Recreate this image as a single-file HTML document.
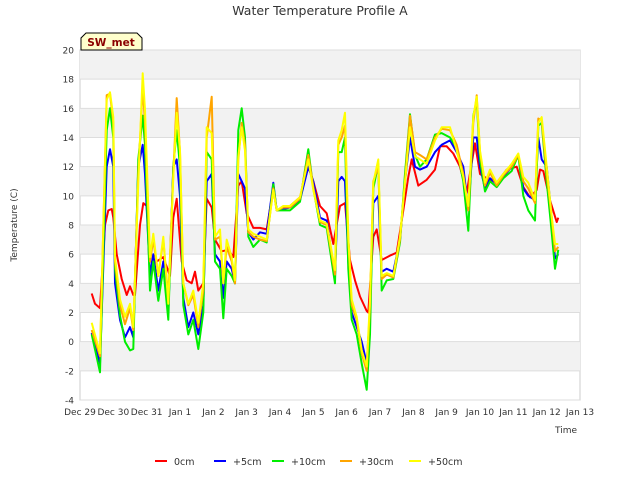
<!DOCTYPE html>
<html><head><meta charset="utf-8"><style>
body{margin:0;background:#fff;font-family:"DejaVu Sans","Liberation Sans",sans-serif}
</style></head><body>
<svg id="chart" width="640" height="480" xmlns="http://www.w3.org/2000/svg" font-family="DejaVu Sans, Liberation Sans, sans-serif">
<rect width="640" height="480" fill="#fff"/>
<g id="bands"></g><g id="grid"></g><g id="ticks"></g><g id="series"></g>
<text x="320" y="15" text-anchor="middle" font-size="12.5" fill="#333">Water Temperature Profile A</text>
<text x="17" y="225" text-anchor="middle" font-size="9" fill="#333" transform="rotate(-90 17 225)">Temperature (C)</text>
<text x="566" y="433" text-anchor="middle" font-size="9" fill="#333">Time</text>
<g>
<path d="M81,50 L81,38 L86,33 L137,33 L142,38 L142,50 Z" fill="#ffffcc" stroke="#000" stroke-width="1"/>
<text x="111" y="46" text-anchor="middle" font-size="10.5" font-weight="bold" fill="#8b0000">SW_met</text>
</g>
<g id="legend"></g>
</svg>
<script>
const yTicks=[-4,-2,0,2,4,6,8,10,12,14,16,18,20];
const xTickLabels=["Dec 29","Dec 30","Dec 31","Jan 1","Jan 2","Jan 3","Jan 4","Jan 5","Jan 6","Jan 7","Jan 8","Jan 9","Jan 10","Jan 11","Jan 12","Jan 13"];
const seriesNames=["0cm","+5cm","+10cm","+30cm","+50cm"];
const tRed=[0.35,0.45,0.6,0.75,0.85,0.95,1.0,1.1,1.25,1.4,1.5,1.6,1.65,1.8,1.9,2.0,2.1,2.3,2.5,2.7,2.8,2.9,3.05,3.2,3.35,3.45,3.55,3.7,3.8,3.95,4.05,4.25,4.45,4.6,4.75,4.85,5.0,5.2,5.4,5.6,5.8,5.9,6.3,6.6,6.85,7.0,7.2,7.4,7.6,7.8,7.95,8.1,8.25,8.4,8.6,8.65,8.8,8.9,9.05,9.3,9.5,9.7,9.85,9.95,10.15,10.4,10.65,10.8,11.0,11.2,11.4,11.6,11.85,12.0,12.2,12.5,12.8,13.1,13.3,13.5,13.7,13.8,13.9,14.1,14.3,14.35];
const red=[3.3,2.6,2.3,8,9,9.1,8.5,6,4.3,3.2,3.8,3.2,3.2,8,9.5,9.3,5.5,5.5,5.8,4.5,8.5,9.8,5.5,4.2,4.0,4.8,3.5,4,9.8,9.2,7,6.2,6.3,5.8,10.7,11,8.8,7.8,7.8,7.7,10.5,9,9.3,9.9,12,11,9.3,8.8,6.7,9.3,9.5,5.6,4.2,3.1,2.1,2.0,7.2,7.7,5.6,5.9,6.1,9.0,11.3,12.5,10.7,11.1,11.8,13.4,13.4,12.9,12.0,10.2,13.6,11.5,11.2,10.9,11.8,12.0,10.6,9.9,10.4,11.8,11.7,9.7,8.2,8.5];
const tMain=[0.35,0.6,0.8,0.9,1.0,1.05,1.2,1.35,1.5,1.6,1.75,1.88,1.95,2.1,2.2,2.35,2.5,2.65,2.8,2.9,3.0,3.1,3.25,3.4,3.55,3.7,3.8,3.95,4.05,4.2,4.3,4.4,4.55,4.65,4.75,4.85,4.95,5.05,5.2,5.4,5.6,5.8,5.9,6.1,6.3,6.6,6.85,7.0,7.2,7.4,7.65,7.75,7.85,7.95,8.05,8.15,8.3,8.45,8.6,8.7,8.8,8.95,9.05,9.2,9.4,9.6,9.75,9.9,10.05,10.2,10.4,10.65,10.85,11.1,11.3,11.5,11.65,11.8,11.9,12.0,12.15,12.3,12.5,12.7,12.95,13.15,13.3,13.45,13.65,13.75,13.85,14.0,14.15,14.25,14.35];
const blue=[0.6,-1.5,12.0,13.2,12.0,4.0,1.5,0.3,1.0,0.3,12.0,13.5, 11.5,4.5,6.0,3.5,5.5,2.0,12.0,12.5,10.0,3.0, 1.0,2.0,0.5,2.5,11.0,11.5,6.0,5.5,3.0,5.5, 5.0,4.0,11.5,11.0,10.5,7.5,7.0,7.5,7.4,10.9, 9.0,9.1,9.2,9.7,12.0,11.0,8.5,8.3,4.5,11.0, 11.3,11.0,5.5,2.0,1.0,0.0,-1.5,2.0,9.5,10.0, 4.8,5.0,4.8,7.0,11.0,14.0,12.0,11.8,12.0,13.0, 13.5,13.8,13.0,12.0,9.0,14.0,14.0,12.0,10.5,11.2, 10.8,11.3,12.0,12.8,10.5,10.0,9.7,14.0,12.5,12.0, 8.5,5.7,6.0];
const green=[0.5,-2.1,14.5,16.0,14.0,5.0,1.8,0.0,-0.6,-0.5,12.5,15.5, 13.5,3.5,5.5,2.8,5.0,1.5,12.0,14.5,12.0,2.5, 0.5,1.5,-0.5,2.0,13.0,12.5,5.5,5.0,1.6,5.0, 4.5,4.0,14.5,16.0,14.0,7.2,6.5,7.0,6.8,10.8, 9.0,9.0,9.0,9.6,13.2,10.5,8.0,7.8,4.0,13.0, 13.0,14.0,5.0,1.5,0.5,-1.5,-3.3,0.5,10.5,12.2, 3.5,4.2,4.3,6.8,11.5,15.6,12.8,12.0,12.5,14.2, 14.3,14.0,13.3,11.0,7.6,15.5,16.5,12.5,10.3,11.0, 10.6,11.2,11.7,12.8,10.0,9.0,8.3,14.8,15.0,11.0, 7.5,5.0,6.3];
const orange=[0.8,-1.0,16.9,17.0,15.0,5.5,2.5,1.2,2.3,0.8,11.5,17.5, 15.0,5.5,7.0,4.5,7.0,3.0,11.5,16.7,13.0,4.0, 2.5,3.2,1.0,3.5,14.0,16.8,7.0,7.2,4.0,6.5, 5.5,4.0,12.5,15.0,13.5,7.5,7.2,7.0,6.9,10.5, 9.0,9.2,9.2,9.8,12.8,10.6,8.2,8.0,4.6,13.5, 14.0,14.8,7.0,2.5,1.5,-0.8,-2.0,2.5,11.0,12.0, 4.3,4.6,4.4,7.0,11.0,15.5,13.0,12.8,12.5,14.0, 14.6,14.5,13.5,11.5,9.0,15.0,16.9,13.0,10.7,11.6, 10.7,11.4,12.0,12.8,11.0,10.5,9.5,15.3,15.2,11.5, 8.5,6.2,6.5];
const yellow=[1.3,-0.8,16.6,17.1,15.4,5.8,2.9,1.7,2.6,1.0,10.9,18.4, 15.9,5.8,7.4,4.5,7.2,2.6,11.3,15.7,13.1,4.0, 2.6,3.5,1.3,4.0,14.7,14.3,7.2,7.7,4.0,7.0, 5.8,4.2,12.7,14.7,13.1,7.7,7.4,7.2,7.0,10.4, 9.0,9.3,9.3,9.9,12.5,10.4,8.3,8.1,4.9,13.8, 14.5,15.7,7.2,2.9,1.7,-0.6,-1.7,2.9,10.9,12.5, 4.5,4.7,4.5,7.2,10.9,14.7,12.7,12.5,12.2,13.8, 14.7,14.7,13.1,11.3,9.3,15.4,16.8,13.1,10.9,11.8, 10.9,11.5,12.2,12.9,11.3,10.9,9.7,15.0,15.4,12.0, 8.6,6.7,6.7];

const L=80,R=580,T=50,B=400,ymin=-4,ymax=20,xmin=0,xmax=15;
const xs=d=>L+(d-xmin)/(xmax-xmin)*(R-L);
const ys=v=>B-(v-ymin)/(ymax-ymin)*(B-T);
const NS="http://www.w3.org/2000/svg";
function mk(tag,attrs,parent){const e=document.createElementNS(NS,tag);for(const k in attrs)e.setAttribute(k,attrs[k]);parent.appendChild(e);return e;}
const bands=document.getElementById('bands'),grid=document.getElementById('grid'),ticks=document.getElementById('ticks'),ser=document.getElementById('series'),leg=document.getElementById('legend');
const bg=mk('rect',{x:L,y:T,width:R-L,height:B-T,fill:'#fff',stroke:'#ccc'},bands);


for(let i=0;i<yTicks.length-1;i++){
  if(i%2===1){const b=mk('rect',{x:L,y:ys(yTicks[i+1]),width:R-L,height:ys(yTicks[i])-ys(yTicks[i+1]),fill:'#f2f2f2'},bands);
  
  }
}
yTicks.forEach(v=>{
  const g=mk('line',{x1:L,x2:R,y1:ys(v),y2:ys(v),stroke:'#dddddd','stroke-width':1},grid);
  
  
  const t=mk('text',{x:L-6,y:ys(v)+3.5,'text-anchor':'end','font-size':9,fill:'#333'},ticks);
  t.textContent=v;
  
  
});
xTickLabels.forEach((lab,i)=>{
  const t=mk('text',{x:xs(i),y:415,'text-anchor':'middle','font-size':9,fill:'#333'},ticks);
  t.textContent=lab;
  
  
});
const allT=[tRed,tMain,tMain,tMain,tMain],allV=[red,blue,green,orange,yellow],cols=['#ff0000','#0000ff','#00ee00','#ffa500','#ffff00'];
allV.forEach((vals,k)=>{
  const tt=allT[k];let d='';
  const n=Math.min(tt.length,vals.length);
  for(let i=0;i<n;i++)d+=(i?'L':'M')+xs(tt[i]).toFixed(1)+','+ys(vals[i]).toFixed(1);
  const p=mk('path',{d:d,fill:'none',stroke:cols[k],'stroke-width':2,'stroke-linejoin':'round'},ser);
  
  
});
const lx=[155,214,272,340,409];
seriesNames.forEach((nm,k)=>{
  const g=mk('g',{},leg);
  
  
  mk('line',{x1:lx[k],x2:lx[k]+12,y1:461,y2:461,stroke:cols[k],'stroke-width':2},g);
  const t=mk('text',{x:lx[k]+19,y:465,'font-size':9.5,fill:'#333'},g);t.textContent=nm;
});
</script>
</body></html>
